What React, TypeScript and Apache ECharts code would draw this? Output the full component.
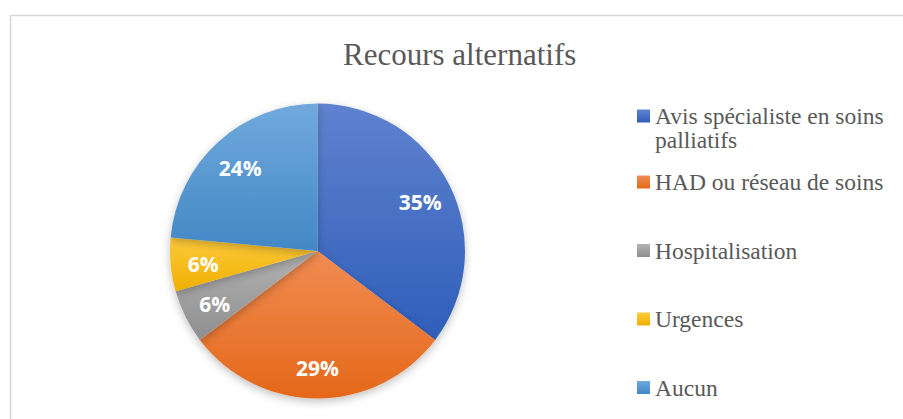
import React, { useEffect, useRef } from "react";
import * as echarts from "echarts";

const categories = [
  "Avis spécialiste en soins palliatifs",
  "HAD ou réseau de soins",
  "Hospitalisation",
  "Urgences",
  "Aucun",
];
const counts = [6, 5, 1, 1, 4];
const topColors = ["#5f82cf", "#f18c52", "#b3b3b3", "#ffca3e", "#71a9dc"];
const bottomColors = ["#2f5eb9", "#e4681a", "#8e8e8e", "#eeb000", "#4288c6"];
const titleText = "Recours alternatifs";

const serif = "Liberation Serif";

export default function App() {
  const ref = useRef<HTMLDivElement>(null);
  useEffect(() => {
    if (!ref.current) return;
    const chart = echarts.init(ref.current, null, { renderer: "svg" });
    const pieData = categories.map((name, i) => ({
      name,
      value: counts[i],
      itemStyle: {
        color: new echarts.graphic.LinearGradient(0, 0, 0, 1, [
          { offset: 0, color: topColors[i] },
          { offset: 1, color: bottomColors[i] },
        ]),
      },
    }));
    const labelData = categories.map((name, i) => ({ name, value: counts[i] }));
    const legendText = {
      fontFamily: serif,
      fontSize: 23.5,
      color: "#595959",
      lineHeight: 24,
    };
    chart.setOption({
      animation: false,
      backgroundColor: "#ffffff",
      textStyle: { fontFamily: serif },
      graphic: [
        {
          type: "rect",
          left: 8,
          top: 13,
          shape: { x: 0, y: 0, width: 1000, height: 1000 },
          style: { fill: "none", stroke: "#d9d9d9", lineWidth: 1.5 },
          silent: true,
          z: -1,
        },
      ],
      title: {
        text: titleText,
        left: 343,
        top: 36,
        padding: 0,
        textStyle: {
          fontFamily: serif,
          fontSize: 31,
          fontWeight: "normal",
          color: "#595959",
          lineHeight: 36,
        },
      },
      legend: [
        {
          data: [categories[0]],
          orient: "vertical",
          left: 637,
          top: 80,
          padding: 0,
          icon: "rect",
          itemWidth: 13,
          itemHeight: 13,
          selectedMode: false,
          formatter: (name: string) => "\n" + name.replace(/ (palliatifs)$/, "\n$1"),
          textStyle: legendText,
        },
        {
          data: categories.slice(1),
          orient: "vertical",
          left: 637,
          top: 170,
          padding: 0,
          itemGap: 44.5,
          icon: "rect",
          itemWidth: 13,
          itemHeight: 13,
          selectedMode: false,
          textStyle: legendText,
        },
      ],
      series: [
        {
          type: "pie",
          center: [317.5, 251],
          radius: [0, 147.5],
          startAngle: 90,
          clockwise: true,
          percentPrecision: 0,
          label: { show: false },
          labelLine: { show: false },
          itemStyle: {
            borderWidth: 0,
            shadowBlur: 8,
            shadowOffsetY: 3,
            shadowColor: "rgba(0,0,0,0.25)",
          },
          emphasis: { disabled: true },
          data: pieData,
        },
        {
          type: "pie",
          center: [317.5, 253],
          radius: [76, 147.5],
          startAngle: 90,
          clockwise: true,
          percentPrecision: 0,
          silent: true,
          z: 3,
          itemStyle: { color: "rgba(0,0,0,0)", borderWidth: 0 },
          label: {
            show: true,
            position: "inside",
            formatter: "{d}%",
            color: "#ffffff",
            fontFamily: "Open Sans",
            fontWeight: "bold",
            fontSize: 21,
          },
          labelLine: { show: false },
          emphasis: { disabled: true },
          data: labelData,
        },
      ],
    });
    return () => chart.dispose();
  }, []);
  return (
    <div
      ref={ref}
      style={{ position: "fixed", left: 0, top: 0, width: 903, height: 419 }}
    />
  );
}
